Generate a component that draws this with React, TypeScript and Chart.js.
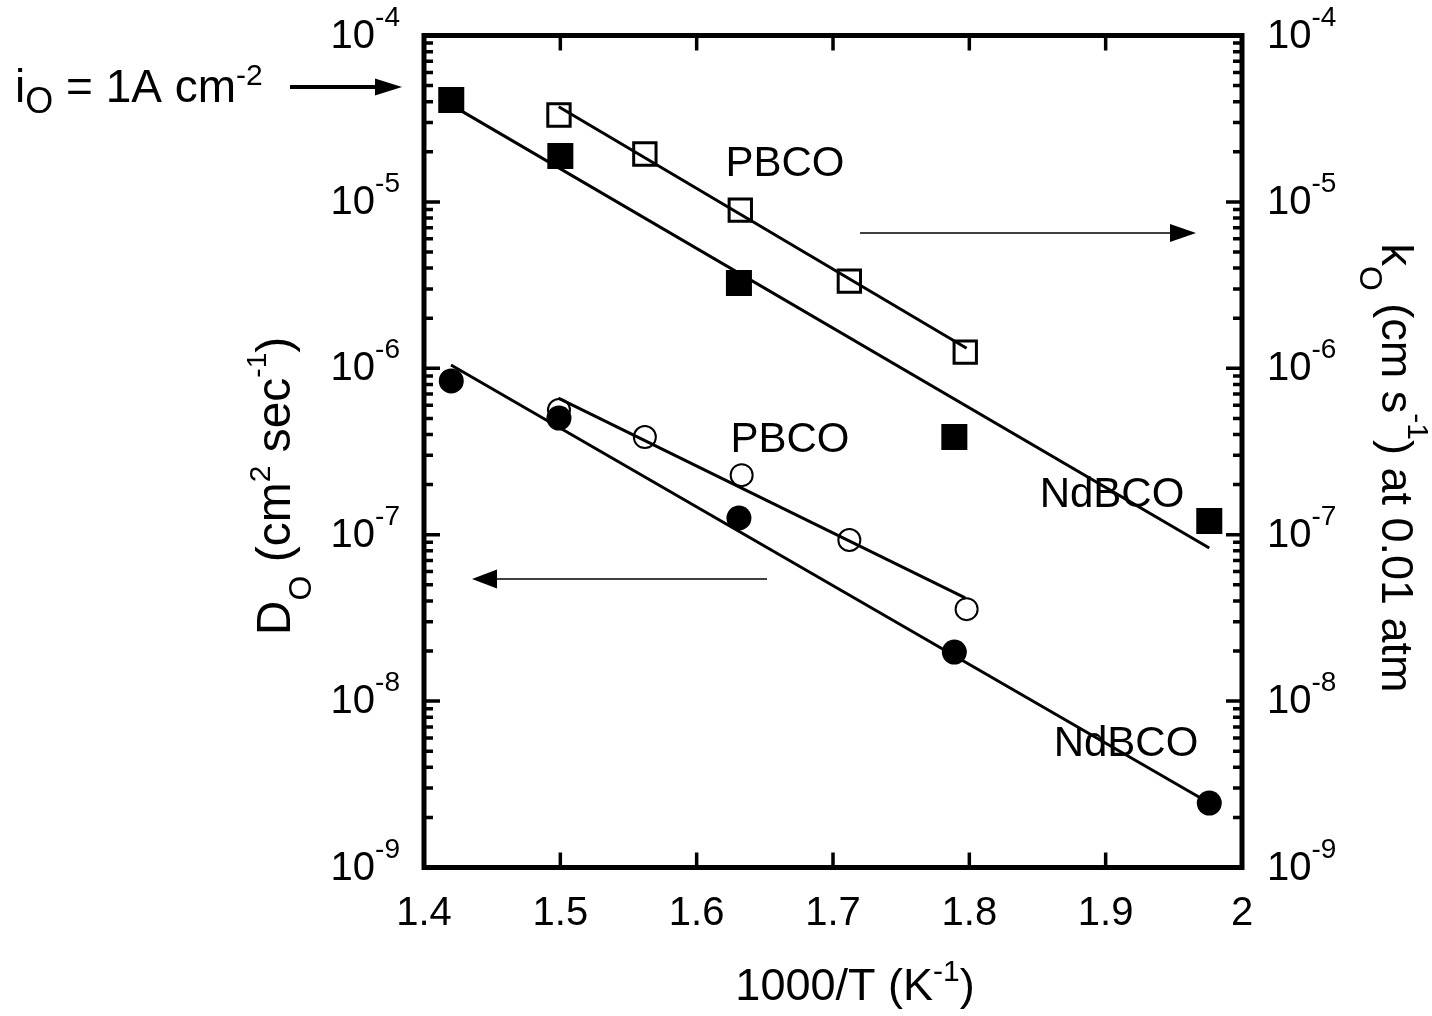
import React, { useEffect, useRef } from "react";
import { Chart, registerables } from "chart.js";

Chart.register(...registerables);

const FONT = '"Liberation Sans", Arial, Helvetica, sans-serif';

// axis ticks
const xTickValues = [1.4, 1.5, 1.6, 1.7, 1.8, 1.9, 2.0];
const xTickLabels = ["1.4", "1.5", "1.6", "1.7", "1.8", "1.9", "2"];
const yDecades = [-4, -5, -6, -7, -8, -9];

// k_O (right axis), squares
const xNdBCOk = [1.42, 1.5, 1.631, 1.789, 1.976];
const kNdBCO = [4.09e-5, 1.89e-5, 3.26e-6, 3.86e-7, 1.21e-7];
const xPBCOk = [1.499, 1.562, 1.632, 1.712, 1.797];
const kPBCO = [3.33e-5, 1.94e-5, 8.93e-6, 3.34e-6, 1.25e-6];

// D_O (left axis), circles
const xNdBCOd = [1.42, 1.499, 1.631, 1.789, 1.976];
const dNdBCO = [8.4e-7, 5.02e-7, 1.26e-7, 1.97e-8, 2.44e-9];
const xPBCOd = [1.499, 1.562, 1.633, 1.712, 1.798];
const dPBCO = [5.61e-7, 3.86e-7, 2.28e-7, 9.29e-8, 3.57e-8];

// fit lines (endpoints)
const fitKNdX = [1.4198, 1.976];
const fitKNdY = [3.83e-5, 8.32e-8];
const fitKPbX = [1.4988, 1.798];
const fitKPbY = [3.73e-5, 1.32e-6];
const fitDNdX = [1.4198, 1.976];
const fitDNdY = [1.047e-6, 2.44e-9];
const fitDPbX = [1.4985, 1.797];
const fitDPbY = [6.61e-7, 4.17e-8];

const pts = (xs: number[], ys: number[]) => xs.map((x, i) => ({ x, y: ys[i] }));

type Part = [string, number, number];

function drawRich(ctx: CanvasRenderingContext2D, parts: Part[], x: number, y: number, align: "left" | "center" | "right") {
  let total = 0;
  const widths: number[] = [];
  for (const [t, s] of parts) {
    ctx.font = `${s}px ${FONT}`;
    const w = ctx.measureText(t).width;
    widths.push(w);
    total += w;
  }
  let cx = align === "left" ? x : align === "center" ? x - total / 2 : x - total;
  ctx.textAlign = "left";
  ctx.textBaseline = "alphabetic";
  parts.forEach(([t, s, dy], i) => {
    ctx.font = `${s}px ${FONT}`;
    ctx.fillText(t, cx, y + dy);
    cx += widths[i];
  });
}

function arrow(ctx: CanvasRenderingContext2D, x1: number, x2: number, y: number, lw: number, headL: number, headH: number) {
  const dir = Math.sign(x2 - x1);
  ctx.beginPath();
  ctx.lineWidth = lw;
  ctx.moveTo(x1, y);
  ctx.lineTo(x2 - dir * headL, y);
  ctx.stroke();
  ctx.beginPath();
  ctx.moveTo(x2, y);
  ctx.lineTo(x2 - dir * headL, y - headH / 2);
  ctx.lineTo(x2 - dir * headL, y + headH / 2);
  ctx.closePath();
  ctx.fill();
}

const decor = {
  id: "decor",
  beforeDraw(chart: any) {
    const ctx = chart.ctx;
    ctx.save();
    ctx.fillStyle = "#fff";
    ctx.fillRect(0, 0, chart.width, chart.height);
    ctx.restore();
  },
  afterDraw(chart: any) {
    const ctx: CanvasRenderingContext2D = chart.ctx;
    const { left, right, top, bottom } = chart.chartArea;
    const xs = chart.scales.x;
    const ys = chart.scales.y;
    ctx.save();
    ctx.strokeStyle = "#000";
    ctx.fillStyle = "#000";

    // ticks
    ctx.lineWidth = 3.5;
    ctx.beginPath();
    for (const v of xTickValues) {
      const px = xs.getPixelForValue(v);
      ctx.moveTo(px, bottom);
      ctx.lineTo(px, bottom - 15);
      ctx.moveTo(px, top);
      ctx.lineTo(px, top + 15);
    }
    for (const e of yDecades) {
      for (let m = 1; m <= 9; m++) {
        if (e === -4 && m > 1) continue;
        const py = ys.getPixelForValue(m * Math.pow(10, e));
        const len = m === 1 ? 16 : 9;
        ctx.moveTo(left, py);
        ctx.lineTo(left + len, py);
        ctx.moveTo(right, py);
        ctx.lineTo(right - len, py);
      }
    }
    ctx.stroke();

    // frame
    ctx.lineWidth = 5;
    ctx.strokeRect(left, top, right - left, bottom - top);

    // y tick labels
    for (const e of yDecades) {
      const py = ys.getPixelForValue(Math.pow(10, e));
      const parts: Part[] = [["10", 40, 0], [String(e), 28, -22]];
      drawRich(ctx, parts, 400, py + 12, "right");
      drawRich(ctx, parts, 1267, py + 12, "left");
    }
    // x tick labels
    xTickValues.forEach((v, i) => {
      drawRich(ctx, [[xTickLabels[i], 40, 0]], xs.getPixelForValue(v), 925, "center");
    });

    // x title
    drawRich(ctx, [["1000/T (K", 45, 0], ["-1", 30, -19], [")", 45, 0]], 855, 1000, "center");

    // left y title
    ctx.save();
    ctx.translate(290, 486);
    ctx.rotate(-Math.PI / 2);
    drawRich(ctx, [["D", 48, 0], ["O", 32, 21], [" (cm", 48, 0], ["2", 30, -20], [" sec", 48, 0], ["-1", 28, -24], [")", 48, 0]], 0, 0, "center");
    ctx.restore();

    // right y title
    ctx.save();
    ctx.translate(1382, 468);
    ctx.rotate(Math.PI / 2);
    drawRich(ctx, [["k", 45, 0], ["O", 32, 22], [" (cm s", 45, 0], ["-1", 30, -26], [") at 0.01 atm", 45, 0]], 0, 0, "center");
    ctx.restore();

    // annotations
    drawRich(ctx, [["PBCO", 42, 0]], 785, 176, "center");
    drawRich(ctx, [["PBCO", 42, 0]], 790, 452, "center");
    drawRich(ctx, [["NdBCO", 42, 0]], 1112, 507, "center");
    drawRich(ctx, [["NdBCO", 42, 0]], 1126, 756, "center");

    drawRich(ctx, [["i", 46, 0], ["O", 36, 11], [" = 1A cm", 46, 0], ["-2", 30, -17]], 15, 102, "left");

    arrow(ctx, 290, 402, 87, 4, 27, 17);
    arrow(ctx, 860, 1196, 233, 1.5, 26, 18);
    arrow(ctx, 767, 472, 579, 1.5, 25, 19);

    ctx.restore();
  },
};

export default function App() {
  const ref = useRef<HTMLCanvasElement | null>(null);
  useEffect(() => {
    document.body.style.margin = "0";
    const canvas = ref.current!;
    const logScale = (pos: "left" | "right") => ({
      type: "logarithmic" as const,
      min: 1e-9,
      max: 1e-4,
      display: false,
      position: pos,
    });
    const pointSet = (data: any[], style: string, radius: number, filled: boolean, bw: number, axis: string) => ({
      type: "scatter" as const,
      data,
      yAxisID: axis,
      pointStyle: style,
      pointRadius: radius,
      pointHoverRadius: radius,
      pointBackgroundColor: filled ? "#000" : "rgba(0,0,0,0)",
      pointBorderColor: "#000",
      pointBorderWidth: bw,
      showLine: false,
      order: 1,
    });
    const lineSet = (data: any[], axis: string) => ({
      type: "scatter" as const,
      data,
      yAxisID: axis,
      showLine: true,
      borderColor: "#000",
      borderWidth: 3,
      pointRadius: 0,
      fill: false,
      order: 2,
    });
    const chart = new Chart(canvas, {
      type: "scatter",
      data: {
        datasets: [
          pointSet(pts(xNdBCOk, kNdBCO), "rect", 18.4, true, 0, "y2"),
          pointSet(pts(xPBCOk, kPBCO), "rect", 15.8, false, 3, "y2"),
          pointSet(pts(xNdBCOd, dNdBCO), "circle", 12.5, true, 0, "y"),
          pointSet(pts(xPBCOd, dPBCO), "circle", 11, false, 2, "y"),
          lineSet(pts(fitKNdX, fitKNdY), "y2"),
          lineSet(pts(fitKPbX, fitKPbY), "y2"),
          lineSet(pts(fitDNdX, fitDNdY), "y"),
          lineSet(pts(fitDPbX, fitDPbY), "y"),
        ] as any,
      },
      options: {
        responsive: false,
        animation: false,
        layout: { padding: { left: 424, right: 190, top: 35.5, bottom: 148.5 } },
        scales: {
          x: { type: "linear", min: 1.4, max: 2.0, display: false },
          y: logScale("left"),
          y2: logScale("right"),
        } as any,
        plugins: { legend: { display: false }, tooltip: { enabled: false } },
        events: [],
      },
      plugins: [decor],
    });
    return () => chart.destroy();
  }, []);
  return <canvas ref={ref} width={1432} height={1016} style={{ display: "block" }} />;
}
